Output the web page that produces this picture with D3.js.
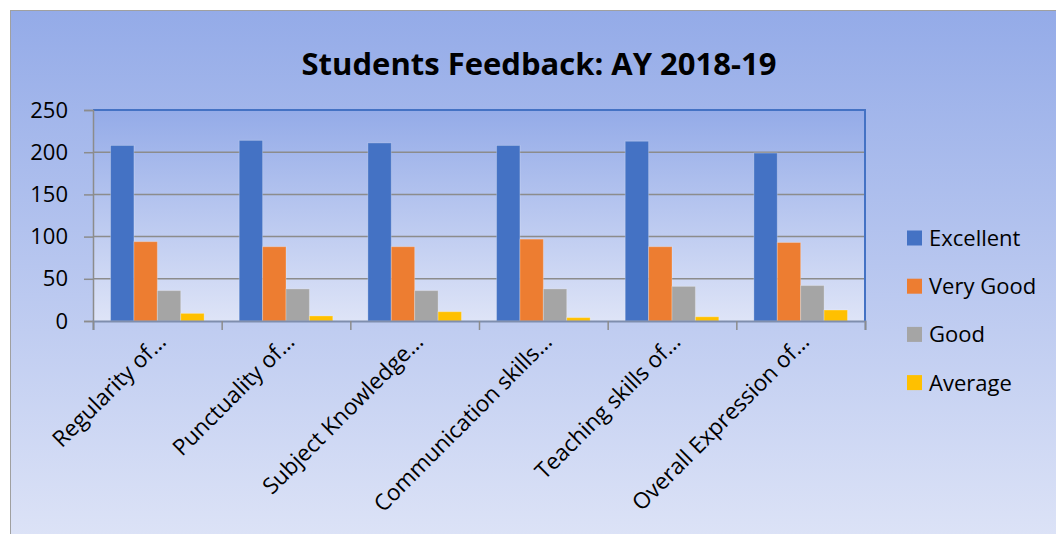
<!DOCTYPE html>
<html>
<head>
<meta charset="utf-8">
<script src="https://cdn.jsdelivr.net/npm/d3@7"></script>
<style>
  body { margin: 0; background: #fff; }
  svg text { font-family: "Open Sans", sans-serif; fill: #000; }
</style>
</head>
<body>
<svg id="chart" width="1056" height="534"></svg>
<script>
// data
var categories = ["Regularity of\u2026", "Punctuality of\u2026", "Subject Knowledge\u2026",
                  "Communication skills\u2026", "Teaching skills of\u2026", "Overall Expression of\u2026"];
var series = ["Excellent", "Very Good", "Good", "Average"];
var excellent = [208, 214, 211, 208, 213, 199];
var veryGood  = [94, 88, 88, 97, 88, 93];
var good      = [36, 38, 36, 38, 41, 42];
var average   = [9, 6, 11, 4, 5, 13];
var colors    = ["#4472C4", "#ED7D31", "#A5A5A5", "#FFC000"];
var yTicks    = [0, 50, 100, 150, 200, 250];

var values = [excellent, veryGood, good, average];

var svg = d3.select("#chart");
var defs = svg.append("defs");

var grad = defs.append("linearGradient")
    .attr("id", "bg").attr("x1", 0).attr("y1", 0).attr("x2", 0).attr("y2", 1);
grad.append("stop").attr("offset", "0%").attr("stop-color", "#94ABE8");
grad.append("stop").attr("offset", "100%").attr("stop-color", "#DEE4F7");

// chart area (runs off the right and bottom of the picture)
svg.append("rect")
    .attr("x", 10.5).attr("y", 10.5)
    .attr("width", 1060).attr("height", 540)
    .attr("fill", "url(#bg)")
    .attr("stroke", "#A0A0A0");

svg.append("text")
    .attr("x", 539).attr("y", 75)
    .attr("text-anchor", "middle")
    .style("font-size", "31px").style("font-weight", "bold")
    .text("Students Feedback: AY 2018-19");

var m = {left: 93, top: 110, right: 865, bottom: 321};
var w = m.right - m.left, h = m.bottom - m.top;

var g = svg.append("g").attr("transform", "translate(" + m.left + "," + m.top + ")");

var x0 = d3.scaleBand().domain(categories).range([0, w]).padding(0);
var x1 = d3.scaleBand().domain(series).range([0, x0.bandwidth()])
    .paddingInner(0).paddingOuter(0.75);
var y = d3.scaleLinear().domain([0, 250]).range([h, 0]);

// plot area
g.append("rect")
    .attr("width", w).attr("height", h)
    .attr("fill", "url(#bg)");

// gridlines
g.append("g")
    .selectAll("line")
    .data(yTicks.slice(1, -1))
    .join("line")
    .attr("x1", 0).attr("x2", w)
    .attr("y1", function(d){ return y(d); })
    .attr("y2", function(d){ return y(d); })
    .attr("stroke", "#8C8C8C").attr("stroke-width", 1.5);

// bars
var groups = g.append("g")
    .selectAll("g")
    .data(categories)
    .join("g")
    .attr("transform", function(d){ return "translate(" + x0(d) + ",0)"; });

groups.selectAll("rect")
    .data(function(d, i){
        return series.map(function(s, j){ return {s: s, v: values[j][i], c: colors[j]}; });
    })
    .join("rect")
    .attr("x", function(d){ return x1(d.s); })
    .attr("y", function(d){ return y(d.v); })
    .attr("width", x1.bandwidth())
    .attr("height", function(d){ return h - y(d.v); })
    .attr("fill", function(d){ return d.c; })
    .attr("stroke", "rgba(255,255,255,0.25)").attr("stroke-width", 1);

// plot border top and right
g.append("path")
    .attr("d", "M0,0H" + w + "V" + h)
    .attr("fill", "none").attr("stroke", "#4472C4").attr("stroke-width", 2);

// y axis
var yAxis = g.append("g")
    .call(d3.axisLeft(y).tickValues(yTicks).tickSize(9).tickPadding(16));
yAxis.select(".domain").attr("stroke", "#8C8C8C").attr("stroke-width", 1.5);
yAxis.selectAll(".tick line").attr("stroke", "#8C8C8C").attr("stroke-width", 1.5);
yAxis.selectAll("text").style("font-size", "22px").attr("font-family", null).attr("fill", "#000");

// x axis boundaries
var xb = d3.scaleLinear().domain([0, categories.length]).range([0, w]);
var xAxis = g.append("g")
    .attr("transform", "translate(0," + h + ")")
    .call(d3.axisBottom(xb).ticks(categories.length).tickSize(9).tickFormat(""));
xAxis.select(".domain").attr("stroke", "#7F8EAD").attr("stroke-width", 2);
xAxis.selectAll(".tick line").attr("stroke", "#8C8C8C").attr("stroke-width", 1.5);

// category labels
g.append("g")
    .selectAll("text")
    .data(categories)
    .join("text")
    .attr("transform", function(d){
        return "translate(" + (x0(d) + x0.bandwidth() / 2 + 10) + "," + (h + 22) + ") rotate(-45)";
    })
    .attr("text-anchor", "end")
    .style("font-size", "22.5px")
    .text(function(d){ return d; });

// legend
var legend = svg.append("g")
    .selectAll("g")
    .data(series)
    .join("g")
    .attr("transform", function(d, i){ return "translate(907," + (238 + i * 48.2) + ")"; });

legend.append("rect")
    .attr("x", 0).attr("y", -7.5)
    .attr("width", 15).attr("height", 15)
    .attr("fill", function(d, i){ return colors[i]; });

legend.append("text")
    .attr("x", 22).attr("y", 0).attr("dy", "0.36em")
    .style("font-size", "22px")
    .text(function(d){ return d; });
</script>
</body>
</html>
